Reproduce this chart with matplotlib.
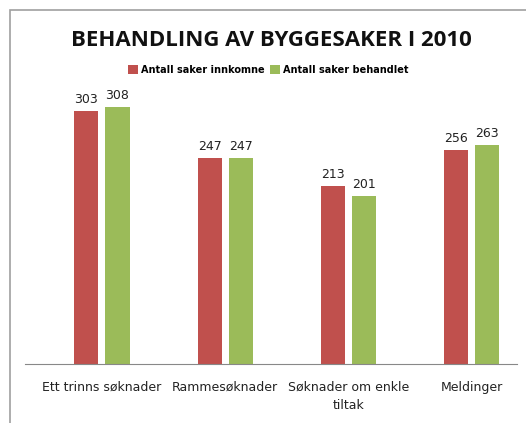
import matplotlib.pyplot as plt
import matplotlib.patches as mpatches
import numpy as np

categories = ["Ett trinns søknader", "Rammesøknader", "Søknader om enkle\ntiltak", "Meldinger"]
innkomne = [303, 247, 213, 256]
behandlet = [308, 247, 201, 263]

W, H = 526, 423
fig = plt.figure(figsize=(W / 100, H / 100), dpi=100)

# Outer chart frame (only left/top visible in the original crop)
fig.patches.append(mpatches.Rectangle((10 / W, -0.05), 1.2, 1 - 10 / H + 0.05, transform=fig.transFigure,
                                      fill=False, edgecolor='#a0a0a0', linewidth=1.2))

# Plot area: baseline at y=364 px, top at y=72 px, x from 25 to 517 px
ax = fig.add_axes((25 / W, 1 - 364 / H, (517 - 25) / W, (364 - 72) / H))
x = np.arange(len(categories))
off, bw = 0.126, 0.195
ax.bar(x - off, innkomne, bw, color='#C0504D', label='Antall saker innkomne')
ax.bar(x + off, behandlet, bw, color='#9BBB59', label='Antall saker behandlet')

for xi, v in zip(x - off, innkomne):
    ax.text(xi, v + 6, str(v), ha='center', va='bottom', fontsize=9, color='#222222')
for xi, v in zip(x + off, behandlet):
    ax.text(xi, v + 6, str(v), ha='center', va='bottom', fontsize=9, color='#222222')

ax.set_xlim(-0.624, 3.366)
ax.set_ylim(0, 350)
ax.set_yticks([])
ax.set_xticks(x)
ax.set_xticklabels(categories, fontsize=9, color='#222222', linespacing=1.5)
ax.tick_params(axis='x', length=0, pad=12)
for s in ['top', 'right', 'left']:
    ax.spines[s].set_visible(False)
ax.spines['bottom'].set_color('#888888')

fig.text(271 / W, 1 - 40 / H, "BEHANDLING AV BYGGESAKER I 2010", ha='center', va='center',
         fontsize=16, fontweight='bold', family='Open Sans', color='#111111')

ax.legend(loc='center', bbox_to_anchor=(268 / W, 1 - 70 / H), bbox_transform=fig.transFigure,
          ncol=2, frameon=False, handlelength=1.0, handleheight=1.0,
          handletextpad=0.3, columnspacing=0.6, prop={'weight': 'bold', 'size': 7})

fig.savefig("out.png", dpi=100)
